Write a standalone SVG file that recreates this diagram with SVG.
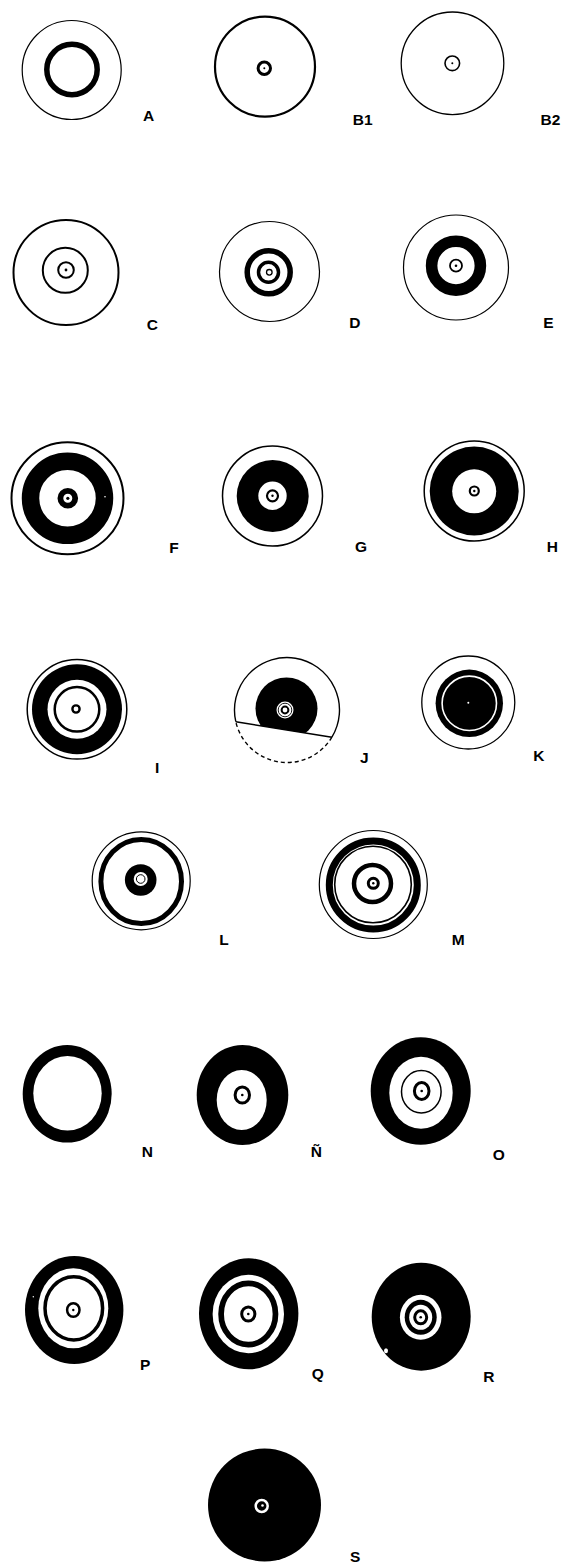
<svg xmlns="http://www.w3.org/2000/svg" width="565" height="1562" viewBox="0 0 565 1562">
<style>
.ln{fill:none;stroke:#000}
.wl{fill:none;stroke:#fff}
.b{fill:#000}
.w{fill:#fff}
.lbl{font-family:"Liberation Sans",Arial,sans-serif;font-weight:bold;font-size:15.5px;fill:#000}
</style>
<defs>
<clipPath id="jcut"><polygon points="200,600 380,600 380,745 200,715.9"/></clipPath>
</defs>
<rect width="565" height="1562" fill="#fff"/>
<g id="connectors"/>
<g id="nA">
<circle class="ln" cx="71.7" cy="70" r="49.5" stroke-width="1.2"/>
<circle class="ln" cx="72" cy="69.5" r="25.2" stroke-width="5.5"/>
<text class="lbl" x="143" y="120.5">A</text>
</g>
<g id="nB1">
<circle class="ln" cx="265" cy="66.7" r="50" stroke-width="2.2"/>
<circle class="ln" cx="264.3" cy="68.3" r="6.2" stroke-width="3"/>
<circle class="b" cx="264.3" cy="68.3" r="1"/>
<text class="lbl" x="352.7" y="125">B1</text>
</g>
<g id="nB2">
<circle class="ln" cx="452.5" cy="63.3" r="51.3" stroke-width="1.3"/>
<circle class="ln" cx="452.3" cy="63.3" r="7.3" stroke-width="1.6"/>
<circle class="b" cx="452.3" cy="63.3" r="1"/>
<text class="lbl" x="540.5" y="125">B2</text>
</g>
<g id="nC">
<circle class="ln" cx="66" cy="272.5" r="52.5" stroke-width="2"/>
<circle class="ln" cx="65.3" cy="270.3" r="22.5" stroke-width="2"/>
<circle class="ln" cx="66" cy="270" r="7.8" stroke-width="2"/>
<circle class="b" cx="66" cy="270" r="1.4"/>
<text class="lbl" x="146.7" y="330">C</text>
</g>
<g id="nD">
<circle class="ln" cx="269.5" cy="271.5" r="50" stroke-width="1.2"/>
<circle class="ln" cx="268.7" cy="272.3" r="21.5" stroke-width="5.5"/>
<circle class="ln" cx="268.5" cy="272.3" r="10" stroke-width="3.5"/>
<circle class="ln" cx="269.3" cy="272.3" r="2.8" stroke-width="1.3"/>
<text class="lbl" x="349.3" y="328.3">D</text>
</g>
<g id="nE">
<circle class="ln" cx="456" cy="267.5" r="52.5" stroke-width="1.2"/>
<circle class="ln" cx="456" cy="265.7" r="24.4" stroke-width="11.6"/>
<circle class="ln" cx="456" cy="265.7" r="6" stroke-width="1.8"/>
<circle class="b" cx="456" cy="265.7" r="1.3"/>
<text class="lbl" x="543.3" y="328.3">E</text>
</g>
<g id="nF">
<circle class="ln" cx="67.5" cy="498.3" r="56" stroke-width="2"/>
<circle class="ln" cx="67.5" cy="498.3" r="37" stroke-width="17.5"/>
<circle class="ln" cx="67.8" cy="498.3" r="7.4" stroke-width="5.8"/>
<circle class="b" cx="67.8" cy="498.3" r="1.6"/>
<circle class="w" cx="105" cy="496.7" r="0.8"/>
<text class="lbl" x="169.3" y="552.7">F</text>
</g>
<g id="nG">
<circle class="ln" cx="272.5" cy="496" r="50" stroke-width="1.5"/>
<circle class="b" cx="272.7" cy="496" r="36"/>
<circle class="w" cx="272.5" cy="495.8" r="14.2"/>
<circle class="ln" cx="272.5" cy="495.8" r="5.5" stroke-width="2.2"/>
<circle class="b" cx="272.5" cy="495.8" r="1.2"/>
<text class="lbl" x="355" y="551.7">G</text>
</g>
<g id="nH">
<circle class="ln" cx="474.2" cy="491" r="50" stroke-width="1.5"/>
<circle class="b" cx="474.2" cy="491" r="44.5"/>
<circle class="w" cx="474.2" cy="491.3" r="22"/>
<circle class="ln" cx="474.3" cy="491" r="4.5" stroke-width="2.2"/>
<circle class="b" cx="474.3" cy="491" r="1.2"/>
<text class="lbl" x="546.7" y="551.7">H</text>
</g>
<g id="nI">
<circle class="ln" cx="77" cy="709.3" r="49.8" stroke-width="1.5"/>
<circle class="b" cx="77" cy="709.3" r="45"/>
<circle class="w" cx="77" cy="709.3" r="29.5"/>
<circle class="ln" cx="77" cy="709.3" r="22.3" stroke-width="2.5"/>
<circle class="ln" cx="76" cy="709" r="3.6" stroke-width="2.4"/>
<text class="lbl" x="155" y="773.3">I</text>
</g>
<g id="nJ">
<path class="ln" d="M235.8 721.7 A52.5 52.5 0 1 1 331.9 737.2" stroke-width="1.4"/>
<path class="ln" d="M331.9 737.2 A52.5 52.5 0 0 1 235.8 721.7" stroke-width="1.4" stroke-dasharray="4 3"/>
<path class="ln" d="M235.8 721.7 L331.9 737.2" stroke-width="1.5"/>
<circle class="b" cx="286.5" cy="708.5" r="31" clip-path="url(#jcut)"/>
<circle class="w" cx="285" cy="710" r="8.5"/>
<circle class="ln" cx="285" cy="710" r="6.8" stroke-width="0.9"/>
<circle class="ln" cx="285" cy="710" r="3.4" stroke-width="2"/>
<text class="lbl" x="360" y="763.3">J</text>
</g>
<g id="nK">
<circle class="ln" cx="468.3" cy="702.5" r="46.5" stroke-width="1.3"/>
<circle class="b" cx="469.3" cy="703.3" r="33.7"/>
<circle class="wl" cx="469.3" cy="703.3" r="27.2" stroke-width="1.6"/>
<circle class="w" cx="468.3" cy="702.7" r="1"/>
<text class="lbl" x="533.3" y="761">K</text>
</g>
<g id="nL">
<circle class="ln" cx="141.2" cy="880.8" r="49" stroke-width="1.2"/>
<ellipse class="ln" cx="141.2" cy="881.5" rx="40.3" ry="42" stroke-width="5"/>
<circle class="b" cx="140.7" cy="880" r="15.8"/>
<circle class="w" cx="140.7" cy="879" r="7"/>
<circle class="ln" cx="140.7" cy="879" r="4.3" stroke-width="1"/>
<text class="lbl" x="219.3" y="945">L</text>
</g>
<g id="nM">
<circle class="ln" cx="373.3" cy="884.5" r="54" stroke-width="1.2"/>
<circle class="ln" cx="373.3" cy="885" r="44" stroke-width="7"/>
<circle class="ln" cx="373" cy="884.5" r="38.3" stroke-width="1.6"/>
<circle class="ln" cx="372.5" cy="883.5" r="18.5" stroke-width="4.5"/>
<circle class="ln" cx="373.3" cy="883.3" r="5" stroke-width="3"/>
<circle class="b" cx="373.3" cy="883.3" r="1.2"/>
<text class="lbl" x="451.7" y="945">M</text>
</g>
<g id="nN">
<ellipse class="b" cx="67.2" cy="1093.8" rx="44.5" ry="48.8"/>
<ellipse class="w" cx="67.5" cy="1093.3" rx="34.2" ry="37.3"/>
<text class="lbl" x="141.7" y="1156.7">N</text>
</g>
<g id="nNtilde">
<ellipse class="b" cx="242.5" cy="1095" rx="45.8" ry="50"/>
<ellipse class="w" cx="241.7" cy="1100" rx="25" ry="30"/>
<ellipse class="ln" cx="242.3" cy="1095" rx="7.2" ry="8" stroke-width="3"/>
<circle class="b" cx="242.3" cy="1095" r="1.3"/>
<text class="lbl" x="310.7" y="1156.5">Ñ</text>
</g>
<g id="nO">
<ellipse class="b" cx="420.7" cy="1091" rx="50" ry="53.8"/>
<ellipse class="w" cx="421" cy="1092.8" rx="31.7" ry="36"/>
<ellipse class="ln" cx="421.3" cy="1091.7" rx="19.8" ry="21.2" stroke-width="1.5"/>
<ellipse class="ln" cx="421.7" cy="1091" rx="7.3" ry="8.5" stroke-width="3"/>
<circle class="b" cx="421.7" cy="1091" r="1.3"/>
<text class="lbl" x="492.7" y="1160">O</text>
</g>
<g id="nP">
<ellipse class="b" cx="74.2" cy="1310" rx="49.2" ry="54"/>
<ellipse class="w" cx="73.3" cy="1308.3" rx="35" ry="40"/>
<ellipse class="ln" cx="73.8" cy="1308.3" rx="28.8" ry="31.6" stroke-width="3.5"/>
<ellipse class="ln" cx="73.3" cy="1310" rx="6.2" ry="6.8" stroke-width="2.5"/>
<circle class="b" cx="73.3" cy="1310" r="1.2"/>
<circle class="w" cx="33.3" cy="1296.7" r="0.7"/>
<text class="lbl" x="140" y="1370">P</text>
</g>
<g id="nQ">
<ellipse class="b" cx="248.7" cy="1313.8" rx="49.7" ry="55.5"/>
<ellipse class="w" cx="248.3" cy="1314" rx="35.7" ry="39.2"/>
<ellipse class="ln" cx="248.3" cy="1314" rx="27.2" ry="30.6" stroke-width="5.7"/>
<ellipse class="ln" cx="248.3" cy="1314" rx="6.6" ry="7" stroke-width="3"/>
<circle class="b" cx="248.3" cy="1314" r="1.3"/>
<text class="lbl" x="311.7" y="1378.5">Q</text>
</g>
<g id="nR">
<ellipse class="b" cx="421.2" cy="1316.7" rx="49.5" ry="54"/>
<ellipse class="w" cx="420.7" cy="1317.3" rx="20.8" ry="22.5"/>
<ellipse class="b" cx="420.7" cy="1317.3" rx="16" ry="17.5"/>
<ellipse class="w" cx="420.7" cy="1317.3" rx="11.5" ry="12.5"/>
<ellipse class="ln" cx="420.7" cy="1317.3" rx="6" ry="6.5" stroke-width="3"/>
<circle class="b" cx="420.7" cy="1317.3" r="1.3"/>
<ellipse class="w" cx="386" cy="1350.7" rx="2" ry="2.5"/>
<text class="lbl" x="483.3" y="1381.7">R</text>
</g>
<g id="nS">
<circle class="b" cx="264.5" cy="1505" r="56.5"/>
<circle class="wl" cx="261.7" cy="1506" r="6" stroke-width="2.5"/>
<circle class="w" cx="262.5" cy="1505.5" r="1.3"/>
<text class="lbl" x="350" y="1561.5">S</text>
</g>
</svg>
